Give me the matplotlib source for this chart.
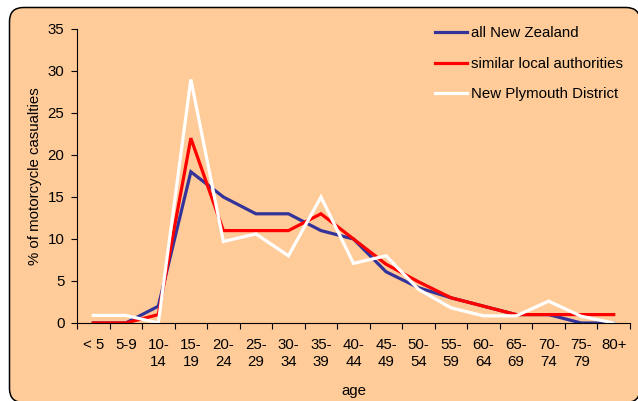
import matplotlib
matplotlib.use("Agg")
import matplotlib.pyplot as plt
from matplotlib.patches import FancyBboxPatch
import numpy as np

age_groups = ["< 5", "5-9", "10-\n14", "15-\n19", "20-\n24", "25-\n29", "30-\n34",
              "35-\n39", "40-\n44", "45-\n49", "50-\n54", "55-\n59", "60-\n64",
              "65-\n69", "70-\n74", "75-\n79", "80+"]
all_nz = [0, 0, 2, 18, 15, 13, 13, 11, 10, 6.1, 4.2, 3, 2, 1, 1, 0, 0]
similar_la = [0, 0, 1, 22, 11, 11, 11, 13, 10, 7, 4.9, 3, 2, 1, 1, 1, 1]
new_plymouth = [0.9, 0.9, 0, 29, 9.7, 10.6, 8, 15, 7.1, 8, 4, 1.8, 0.85, 0.85, 2.6, 0.8, 0]

series_names = ["all New Zealand", "similar local authorities", "New Plymouth District"]
series_colors = ["#333399", "#FF0000", "#FFFFFF"]
y_ticks = [0, 5, 10, 15, 20, 25, 30, 35]

bg = "#FFCC99"
fs = 10.8
plt.rcParams["font.family"] = ["Liberation Sans", "DejaVu Sans"]
plt.rcParams["font.size"] = fs

W, H = 638, 401
fig = plt.figure(figsize=(W / 100, H / 100), dpi=100)
fig.patch.set_facecolor("white")

# rounded panel behind the chart (inch units)
panel = FancyBboxPatch((9.5 / 100, -1.5 / 100), (640 - 9.5) / 100, (401 + 1.5 - 7.5) / 100,
                       boxstyle="round,pad=0,rounding_size=0.14",
                       transform=fig.dpi_scale_trans, facecolor=bg, edgecolor="black",
                       linewidth=1.1, zorder=-5)
fig.patches.append(panel)

ax = fig.add_axes([77 / W, 1 - 323 / H, (630 - 77) / W, (323 - 29) / H])
ax.set_zorder(2)
ax.set_facecolor("none")

x = np.arange(len(age_groups))
for vals, name, col in zip([all_nz, similar_la, new_plymouth], series_names, series_colors):
    ax.plot(x, vals, color=col, linewidth=2.3, label=name, solid_joinstyle="miter")

ax.set_xlim(-0.5, len(age_groups) - 0.5)
ax.set_ylim(0, 35)
ax.set_yticks(y_ticks)
ax.set_xticks(x)
ax.set_xticklabels(age_groups, linespacing=1.25, va="top")
ax.set_xticks(np.arange(-0.5, len(age_groups)), minor=True)
ax.tick_params(axis="x", which="major", length=0, pad=11, labelsize=fs)
ax.tick_params(axis="x", which="minor", length=4, width=0.8, direction="out")
ax.tick_params(axis="y", length=4, width=0.8, pad=5, labelsize=fs)

for s in ["top", "right"]:
    ax.spines[s].set_visible(False)
for s in ["left", "bottom"]:
    ax.spines[s].set_linewidth(0.8)

ax.set_ylabel("% of motorcycle casualties", fontsize=fs, labelpad=4)
ax.set_xlabel("age", fontsize=fs, labelpad=11)

leg = ax.legend(loc="upper left", bbox_to_anchor=((422 - 77) / (630 - 77), 1.055),
                frameon=False, handlelength=2.1, handletextpad=0.3, labelspacing=1.1,
                fontsize=fs)
for line in leg.get_lines():
    line.set_linewidth(2.3)

fig.savefig("out.png", dpi=100, facecolor="white")
